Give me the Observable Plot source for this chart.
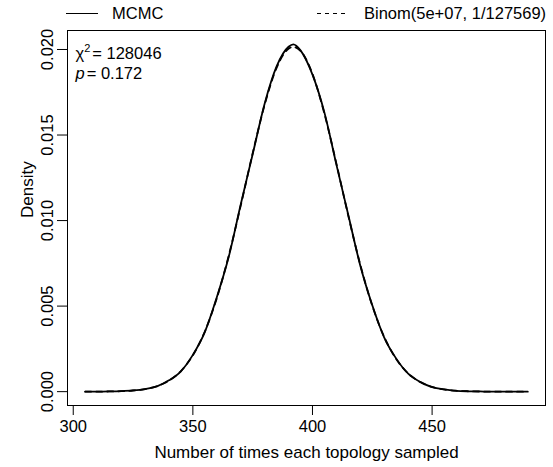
<!DOCTYPE html>
<html><head><meta charset="utf-8">
<script src="https://cdn.jsdelivr.net/npm/d3@7"></script>
<script src="https://cdn.jsdelivr.net/npm/@observablehq/plot@0.6"></script>
<style>
html,body{margin:0;padding:0;background:#fff}
</style>
</head><body><div id="chart"></div>
<script>
// Number of times each topology sampled
const counts = [305,310,315,320,325,330,335,340,345,350,355,360,365,370,375,380,385,390,392,395,400,405,410,415,420,425,430,435,440,445,450,455,460,465,470,475,480,485,490];
// MCMC empirical density (solid)
const mcmcDensity = [0.0000,0.0000,0.00001,0.00003,0.00007,0.00015,0.00031,0.00066,0.00119,0.00215,0.00348,0.00551,0.00788,0.01094,0.01388,0.01683,0.01901,0.02016,0.02030,0.01995,0.01853,0.01631,0.01327,0.01031,0.00736,0.00505,0.00316,0.00193,0.00105,0.00057,0.00027,0.00013,0.00005,0.00002,0.00001,0.0000,0.0000,0.0000,0.0000];
// Binomial density (dashed)
const binomDensity = [0.0000013,0.0000038,0.0000105,0.000027,0.000066,0.000150,0.000320,0.000641,0.001205,0.002124,0.003516,0.005459,0.007951,0.010871,0.013933,0.016764,0.018928,0.020046,0.020149,0.019920,0.018570,0.016240,0.013330,0.010260,0.007410,0.005020,0.003190,0.001906,0.001068,0.000560,0.000276,0.000128,0.000055,0.000023,0.0000086,0.0000031,0.000001,0.0000003,0.0000001];
const xTicks = [300,350,400,450];
const yTicks = [0,0.005,0.010,0.015,0.020];
const legendLabels = ["MCMC","Binom(5e+07, 1/127569)"];
const statLines = ["χ2 = 128046","p = 0.172"];
const xLabel = "Number of times each topology sampled";
const yLabel = "Density";

const mcmcRows = counts.map((c,i)=>({count:c, density:mcmcDensity[i]}));
const binomRows = counts.map((c,i)=>({count:c, density:binomDensity[i]}));

const font = "Liberation Sans, Arial, Helvetica, sans-serif";
const plot = Plot.plot({
  width: 553, height: 467,
  marginLeft: 67, marginRight: 8, marginTop: 30, marginBottom: 62,
  style: {fontFamily: font, fontSize: "16px", color: "black", background: "white"},
  x: {domain: [297.6, 497.4]},
  y: {domain: [-0.00081, 0.02111]},
  marks: [
    Plot.line(binomRows, {x:"count", y:"density", stroke:"black", strokeWidth:1.8, strokeDasharray:"6,5", curve:"monotone-x"}),
    Plot.line(mcmcRows, {x:"count", y:"density", stroke:"black", strokeWidth:1.8, curve:"monotone-x"}),
    Plot.frame({stroke:"black", strokeOpacity:1}),
    Plot.axisX({ticks:xTicks, tickSize:10, tickPadding:5, fontSize:16.5, label:null, stroke:"black"}),
    Plot.axisY({ticks:yTicks, tickSize:10, tickPadding:5, tickRotate:-90, tickFormat:d3.format(".3f"), fontSize:16.5, label:null}),
    Plot.text([xLabel], {frameAnchor:"bottom", dy:52, fontSize:17, fill:"black"}),
    Plot.text([yLabel], {frameAnchor:"left", dx:-40, rotate:-90, fontSize:17, fill:"black"}),
    Plot.text([statLines[0]], {frameAnchor:"top-left", dx:8, dy:17, textAnchor:"start", fontSize:16.5, fill:"black", className:"stat1"}),
    Plot.text([statLines[1]], {frameAnchor:"top-left", dx:8, dy:37, textAnchor:"start", fontSize:16.5, fill:"black", className:"stat2"})
  ]
});
document.getElementById("chart").appendChild(plot);

const svg = d3.select(plot);
// rich text for stats
const t1 = svg.select("g.stat1 text");
t1.text(null);
t1.append("tspan").text("χ");
t1.append("tspan").attr("font-size", 11).attr("dy", -7).text("2");
t1.append("tspan").attr("dy", 7).attr("dx", 2).text("= 128046");
const t2 = svg.select("g.stat2 text");
t2.text(null);
t2.append("tspan").attr("font-style","italic").text("p");
t2.append("tspan").attr("dx", 2).text("= 0.172");

// legend in top margin
const lg = svg.append("g").attr("font-family", font).attr("font-size", 16.5).attr("fill","black").attr("text-anchor","start");
lg.append("line").attr("x1",66).attr("x2",98).attr("y1",13.5).attr("y2",13.5).attr("stroke","black");
lg.append("text").attr("x",112).attr("y",13.5).attr("dy","0.35em").text(legendLabels[0]);
lg.append("line").attr("x1",317).attr("x2",347).attr("y1",13.5).attr("y2",13.5).attr("stroke","black").attr("stroke-dasharray","4,4");
lg.append("text").attr("x",364).attr("y",13.5).attr("dy","0.35em").text(legendLabels[1]);
</script>
</body></html>
